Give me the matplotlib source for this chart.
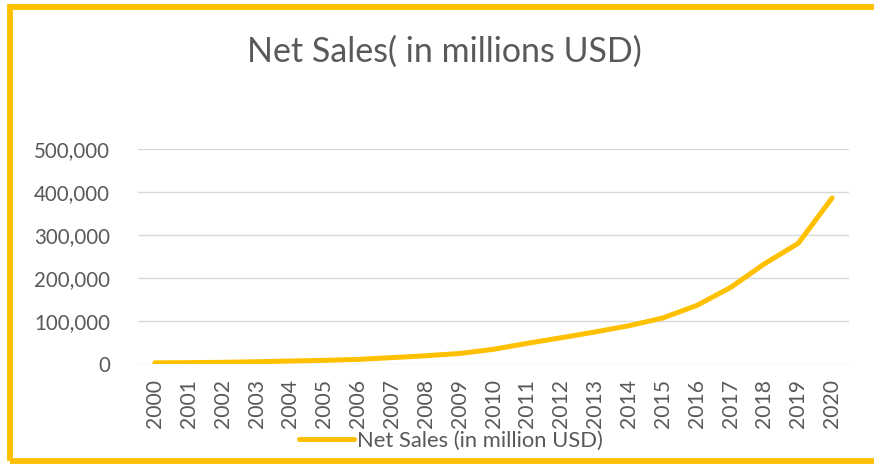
import matplotlib.pyplot as plt
from matplotlib.patches import Rectangle
from matplotlib.ticker import FuncFormatter

# Net sales by year, in million USD
years = [str(y) for y in range(2000, 2021)]
net_sales = [2762, 3122, 3933, 5264, 6921, 8490, 10711, 14835, 19166, 24509,
             34204, 48077, 61093, 74452, 88988, 107006, 135987, 177866,
             232887, 280522, 386064]

gold = '#FFC000'
grey_text = '#595959'

plt.rcParams['font.family'] = ['Lato', 'DejaVu Sans']

fig = plt.figure(figsize=(8.74, 4.65), dpi=100)
ax = fig.add_axes([0.1579, 0.2172, 0.8135, 0.4624])

ax.plot(range(len(years)), net_sales, color=gold, linewidth=3.6,
        solid_capstyle='round', solid_joinstyle='round',
        label='Net Sales (in million USD)', zorder=3)

ax.set_xlim(-0.5, len(years) - 0.5)
ax.set_ylim(0, 500000)
ax.set_yticks(range(0, 500001, 100000))
ax.yaxis.set_major_formatter(FuncFormatter(lambda v, p: f'{int(v):,}'))
ax.set_xticks(range(len(years)))
ax.set_xticklabels(years, rotation=90)

ax.grid(axis='y', color='#D9D9D9', linewidth=1.0, zorder=0)
ax.set_axisbelow(True)
for s in ax.spines.values():
    s.set_visible(False)
ax.tick_params(axis='both', length=0, labelcolor=grey_text)
ax.tick_params(axis='y', pad=20, labelsize=14.8)
ax.tick_params(axis='x', pad=11, labelsize=15.2)

fig.text(0.508, 0.888, 'Net Sales( in millions USD)', ha='center', va='center',
         fontsize=24.5, color=grey_text)

fig.legend(loc='center', bbox_to_anchor=(0.516, 0.052), frameon=False,
           fontsize=15.8, labelcolor=grey_text, handlelength=2.5,
           handletextpad=0.15)

# yellow frame around the chart
fig.patches.append(Rectangle((10 / 874, 1 - 461 / 465), 880 / 874, 454 / 465,
                             transform=fig.transFigure, fill=False,
                             edgecolor=gold, linewidth=4.2, zorder=10))

fig.savefig('out.png', dpi=100)
